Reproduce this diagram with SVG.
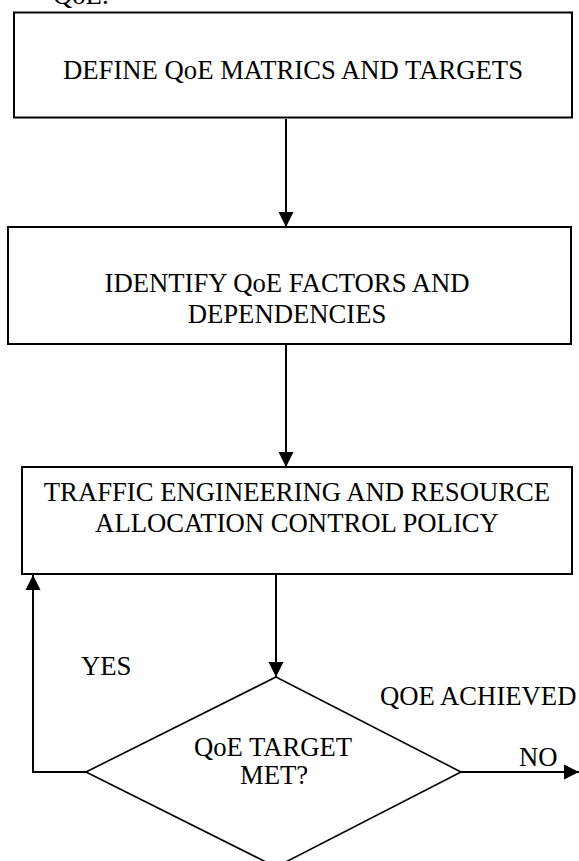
<svg xmlns="http://www.w3.org/2000/svg" width="579" height="861" viewBox="0 0 579 861">
<style>
text{font-family:"Liberation Serif","Times New Roman",serif;font-size:26.7px;fill:#000}
.box{fill:#fff;stroke:#000;stroke-width:2}
.dia{fill:#fff;stroke:#000;stroke-width:1.6}
.conn{fill:none;stroke:#000;stroke-width:2}
.mid{text-anchor:middle}
</style>
<defs>
<marker id="ah" markerUnits="userSpaceOnUse" markerWidth="16" markerHeight="16" viewBox="0 0 16 16" refX="15" refY="8" orient="auto">
<path d="M0,0.5 L15,8 L0,15.5 Z" fill="#000"/>
</marker>
</defs>
<rect width="579" height="861" fill="#fff"/>
<text x="53" y="4">QoE.</text>
<g id="node-define">
<rect class="box" x="14" y="12.5" width="558" height="105"/>
<text class="mid" x="293" y="79">DEFINE QoE MATRICS AND TARGETS</text>
</g>
<g id="node-identify">
<rect class="box" x="8" y="227" width="563" height="117"/>
<text class="mid" x="287" y="292">IDENTIFY QoE FACTORS AND</text>
<text class="mid" x="287" y="323">DEPENDENCIES</text>
</g>
<g id="node-traffic">
<rect class="box" x="22" y="467" width="550" height="107"/>
<text class="mid" x="297" y="501">TRAFFIC ENGINEERING AND RESOURCE</text>
<text class="mid" x="297" y="532">ALLOCATION CONTROL POLICY</text>
</g>
<g id="node-decision">
<polygon class="dia" points="276,677 461,772 276,867 86,772"/>
<text class="mid" x="273" y="756">QoE TARGET</text>
<text class="mid" x="274" y="784">MET?</text>
</g>
<g id="connectors">
<line class="conn" x1="286" y1="119" x2="286" y2="227" marker-end="url(#ah)"/>
<line class="conn" x1="286" y1="345" x2="286" y2="467" marker-end="url(#ah)"/>
<line class="conn" x1="276" y1="575" x2="276" y2="677" marker-end="url(#ah)"/>
<polyline class="conn" points="86,772 33,772 33,575" marker-end="url(#ah)"/>
<line class="conn" x1="461" y1="772" x2="579" y2="772" marker-end="url(#ah)"/>
<text x="81" y="675">YES</text>
<text x="380" y="705">QOE ACHIEVED</text>
<text x="519" y="766">NO</text>
</g>
</svg>
